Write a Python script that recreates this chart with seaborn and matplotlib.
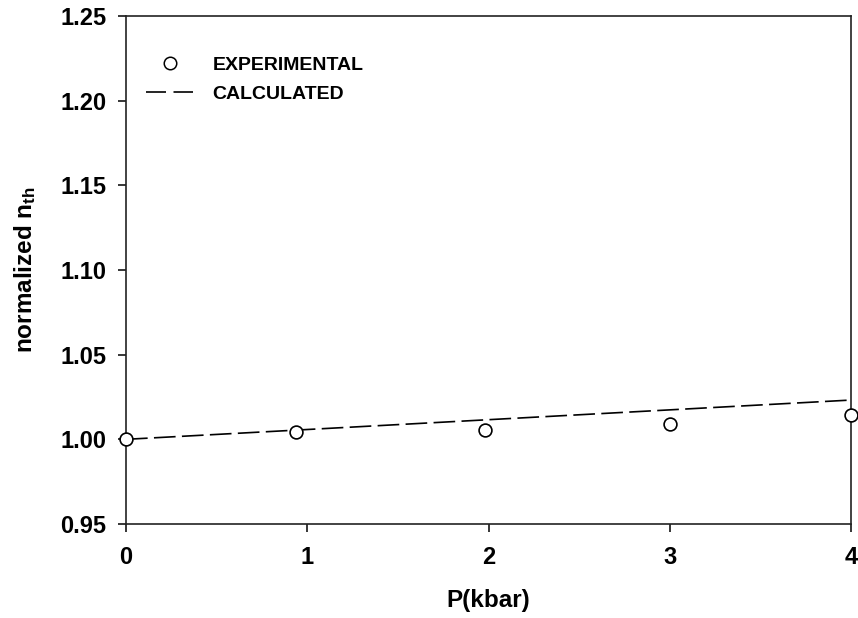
import matplotlib
matplotlib.use("Agg")
import matplotlib.pyplot as plt
import seaborn as sns
import pandas as pd
from matplotlib.lines import Line2D

# Data
exp_p = [0.0, 0.94, 1.98, 3.0, 4.0]
exp_n = [1.000, 1.0043, 1.0053, 1.0092, 1.0143]
calc_p = [0.0, 4.0]
calc_n = [1.000, 1.0232]
x_ticks = [0, 1, 2, 3, 4]
y_ticks = [0.95, 1.00, 1.05, 1.10, 1.15, 1.20, 1.25]

sns.set_style("ticks")
plt.rcParams['font.family'] = ['Liberation Sans', 'DejaVu Sans']
plt.rcParams['text.color'] = 'black'
plt.rcParams['axes.labelcolor'] = 'black'
plt.rcParams['mathtext.fontset'] = 'custom'
plt.rcParams['mathtext.rm'] = 'Liberation Sans:bold'
plt.rcParams['mathtext.it'] = 'Liberation Sans:bold'
plt.rcParams['mathtext.bf'] = 'Liberation Sans:bold'

W, H = 858, 618
L, R, T, B = 126, 851, 16, 524
fig = plt.figure(figsize=(W/100, H/100), dpi=100)
ax = fig.add_axes([L/W, 1-B/H, (R-L)/W, (B-T)/H])

df_exp = pd.DataFrame({'P': exp_p, 'n': exp_n})
df_calc = pd.DataFrame({'P': calc_p, 'n': calc_n})

sns.lineplot(data=df_calc, x='P', y='n', ax=ax, color='black', lw=1.2,
             dashes=False, clip_on=False, zorder=2)
ax.lines[-1].set_dashes((13, 3.8))
sns.scatterplot(data=df_exp, x='P', y='n', ax=ax, marker='o', s=85,
                facecolor='white', edgecolor='black', linewidth=1.2,
                clip_on=False, zorder=3)

ax.set_xlim(0, 4)
ax.set_ylim(0.95, 1.25)
ax.set_xticks(x_ticks)
ax.set_xticklabels([str(t) for t in x_ticks])
ax.set_yticks(y_ticks)
ax.set_yticklabels([f"{t:.2f}" for t in y_ticks])
for s in ax.spines.values():
    s.set_linewidth(1.2)
    s.set_color('#222222')
ax.tick_params(axis='both', direction='out', length=6, width=1.1,
               labelsize=17, colors='black')
ax.tick_params(axis='x', pad=9.5)
ax.tick_params(axis='y', pad=8)
for lab in ax.get_xticklabels() + ax.get_yticklabels():
    lab.set_fontweight('bold')

ax.set_xlabel('P(kbar)', fontsize=17.5, fontweight='bold', va='center',
              color='black')
ax.set_ylabel(r'normalized n$_{\mathregular{th}}$', fontsize=17.5,
              fontweight='bold', va='center', color='black')
ax.xaxis.set_label_coords(0.5, -(600 - B) / (B - T))
ax.yaxis.set_label_coords(-(L - 25) / (R - L), 0.5)

handles = [
    Line2D([], [], marker='o', linestyle='none', markersize=9,
           markerfacecolor='white', markeredgecolor='black', markeredgewidth=1.1),
    Line2D([], [], color='black', lw=1.2, dashes=(12, 4.5)),
]
leg = ax.legend(handles, ['EXPERIMENTAL', 'CALCULATED'], loc='upper left',
                bbox_to_anchor=(0.004, 0.955), frameon=False,
                prop={'weight': 'bold', 'size': 14}, handlelength=2.4,
                handletextpad=1.0, labelspacing=0.6, labelcolor='black')

fig.savefig('out.png', dpi=100, facecolor='white')
